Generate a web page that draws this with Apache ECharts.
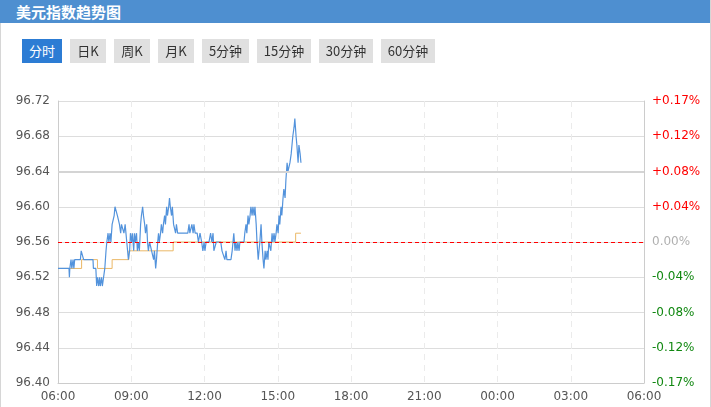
<!DOCTYPE html>
<html>
<head>
<meta charset="utf-8">
<script src="https://cdn.jsdelivr.net/npm/echarts@6/dist/echarts.min.js"></script>
<style>
  html, body { margin: 0; padding: 0; background: #fff; }
  body { width: 711px; height: 407px; position: relative; overflow: hidden; font-family: "Noto Sans CJK SC", sans-serif; }
  #frame { position: absolute; left: 0; top: 0; width: 709px; height: 407px; border-left: 1px solid #d6d6d6; border-right: 1px solid #d6d6d6; }
  #header { position: absolute; left: 0; top: 0; width: 710px; height: 23px; background: #4e8fd0; z-index: 2; }
  #title { position: absolute; left: 16px; top: 0; line-height: 23px; font-size: 15px; font-weight: bold; color: #fff; }
  .btn { position: absolute; top: 39px; height: 24px; line-height: 24px; text-align: center; font-size: 13px; color: #333; background: #e0e0e0; z-index: 2; }
  .btn.active { background: #2c7cd4; color: #fff; }
  #chart { position: absolute; left: 0; top: 0; width: 711px; height: 407px; z-index: 1; }
</style>
</head>
<body>
<div id="frame"></div>
<div id="header"><div id="title">美元指数趋势图</div></div>
<div id="btns"></div>
<div id="chart"></div>
<script>
// ---- data ----
const titleText = "美元指数趋势图";
const buttonLabels = ["分时", "日K", "周K", "月K", "5分钟", "15分钟", "30分钟", "60分钟"];
const xTickLabels = ["06:00", "09:00", "12:00", "15:00", "18:00", "21:00", "00:00", "03:00", "06:00"];
const baseValue = 96.56;          // previous close (red dashed line)
const refLineValue = 96.64;       // thicker grey reference line
const yMin = 96.40, yMax = 96.72, yStep = 0.04;
// minutes after 06:00
const priceMinutes = [0,27,28,29,32,34,37,39,41,55,57,61,63,86,87,93,95,97,100,102,104,107,109,113,115,118,120,123,125,128,130,133,135,138,140,144,146,149,151,154,156,160,162,165,167,171,173,176,178,181,183,186,188,190,193,195,198,200,203,205,208,210,213,215,218,220,222,225,227,230,232,235,237,240,242,245,247,249,252,254,257,259,262,264,267,269,272,274,276,279,281,284,286,289,291,294,300,319,322,324,327,329,332,334,337,342,345,349,353,356,359,361,364,371,375,378,381,383,387,389,400,403,410,413,415,425,428,432,435,437,440,442,445,447,457,459,462,464,467,469,472,474,477,479,482,484,487,489,492,494,496,499,501,504,506,509,511,514,516,518,521,523,526,528,531,533,536,538,541,543,545,548,550,553,555,558,560,563,565,568,570,573,575,577,580,582,585,587,590,592,595,597];
const priceValues = [96.53,96.53,96.52,96.53,96.54,96.53,96.54,96.53,96.54,96.54,96.55,96.55,96.54,96.54,96.53,96.53,96.51,96.52,96.51,96.52,96.51,96.52,96.51,96.51,96.53,96.55,96.56,96.57,96.56,96.57,96.56,96.58,96.58,96.59,96.60,96.60,96.59,96.59,96.58,96.57,96.58,96.58,96.57,96.58,96.57,96.55,96.54,96.55,96.57,96.56,96.57,96.55,96.57,96.56,96.57,96.55,96.56,96.55,96.58,96.59,96.60,96.59,96.58,96.57,96.58,96.56,96.55,96.56,96.56,96.55,96.55,96.54,96.55,96.53,96.54,96.56,96.57,96.56,96.57,96.58,96.57,96.58,96.59,96.58,96.60,96.59,96.60,96.61,96.60,96.59,96.60,96.58,96.58,96.57,96.58,96.57,96.57,96.57,96.58,96.57,96.57,96.58,96.57,96.58,96.57,96.57,96.56,96.57,96.56,96.55,96.56,96.55,96.56,96.56,96.57,96.56,96.57,96.55,96.55,96.56,96.56,96.55,96.54,96.55,96.54,96.54,96.55,96.57,96.55,96.56,96.55,96.56,96.55,96.56,96.56,96.57,96.58,96.57,96.59,96.58,96.59,96.60,96.59,96.60,96.59,96.60,96.58,96.56,96.54,96.55,96.56,96.58,96.56,96.54,96.53,96.55,96.54,96.55,96.54,96.56,96.56,96.55,96.57,96.56,96.57,96.56,96.57,96.58,96.57,96.59,96.58,96.60,96.59,96.61,96.62,96.61,96.63,96.65,96.64,96.64,96.65,96.66,96.67,96.68,96.69,96.70,96.68,96.67,96.65,96.67,96.66,96.65];
const avgMinutes = [0, 58, 97, 133, 174, 283, 584, 597];
const avgValues = [96.53, 96.54, 96.53, 96.54, 96.55, 96.56, 96.57, 96.57];

// ---- header buttons ----
const btnLeft = [22, 70, 114, 158, 202, 257, 319, 381];
const btnWidth = [40, 36, 36, 36, 47, 54, 54, 54];
const btnBox = document.getElementById('btns');
buttonLabels.forEach((t, i) => {
  const d = document.createElement('div');
  d.className = 'btn' + (i === 0 ? ' active' : '');
  d.style.left = btnLeft[i] + 'px';
  d.style.width = btnWidth[i] + 'px';
  d.textContent = t;
  btnBox.appendChild(d);
});
document.getElementById('title').textContent = titleText;

// ---- chart ----
const chart = echarts.init(document.getElementById('chart'));
const pricePts = priceMinutes.map((m, i) => [m, priceValues[i]]);
const avgPts = avgMinutes.map((m, i) => [m, avgValues[i]]);
const FONT = '"DejaVu Sans", sans-serif';

function pctLabel(v) {
  const p = (v - baseValue) / baseValue * 100;
  const s = Math.abs(p).toFixed(2);
  if (s === '0.00') return '{z|0.00%}';
  return p > 0 ? '{p|+' + s + '%}' : '{n|-' + s + '%}';
}

chart.setOption({
  animation: false,
  grid: { left: 58, right: 67, top: 101, bottom: 24 },
  xAxis: {
    type: 'value', min: 0, max: 1440, interval: 180,
    axisLine: { lineStyle: { color: '#cccccc' } },
    axisTick: { show: false },
    axisLabel: {
      color: '#555', fontSize: 12, fontFamily: FONT, margin: 8,
      formatter: (v) => xTickLabels[Math.round(v / 180)]
    },
    splitLine: { show: true, lineStyle: { color: '#ebebeb', type: [6, 5] } }
  },
  yAxis: [{
    type: 'value', min: yMin, max: yMax, interval: yStep,
    axisLine: { show: true, lineStyle: { color: '#cccccc' } },
    axisTick: { show: false },
    axisLabel: { color: '#555', fontSize: 12, fontFamily: FONT, margin: 8, formatter: (v) => v.toFixed(2) },
    splitLine: { show: true, lineStyle: { color: '#dddddd' } }
  }, {
    type: 'value', min: yMin, max: yMax, interval: yStep, position: 'right',
    axisLine: { show: true, lineStyle: { color: '#cccccc' } },
    axisTick: { show: false },
    splitLine: { show: false },
    axisLabel: {
      margin: 8, fontSize: 12, fontFamily: FONT,
      formatter: pctLabel,
      rich: {
        p: { color: '#ff0000', fontSize: 12, fontFamily: FONT },
        n: { color: '#118811', fontSize: 12, fontFamily: FONT },
        z: { color: '#b0b0b0', fontSize: 12, fontFamily: FONT }
      }
    }
  }],
  series: [{
    type: 'line', data: avgPts, step: 'end', showSymbol: false,
    lineStyle: { color: '#ebb866', width: 1 }, z: 3
  }, {
    type: 'line', data: pricePts, showSymbol: false,
    lineStyle: { color: '#5393dc', width: 1.2 }, z: 4,
    markLine: {
      silent: true, symbol: 'none', label: { show: false },
      data: [
        { yAxis: refLineValue, lineStyle: { color: '#d4d4d4', width: 2, type: 'solid' } },
        { yAxis: baseValue, lineStyle: { color: '#ff0000', width: 1, type: [4, 3] } }
      ]
    }
  }]
});
</script>
</body>
</html>
